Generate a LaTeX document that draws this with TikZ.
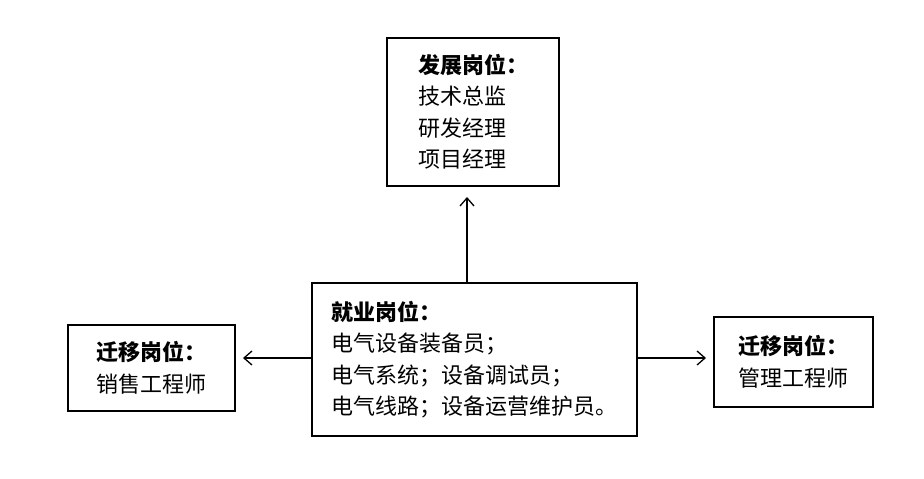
\documentclass[tikz,border=0pt]{standalone}
\usepackage{fontspec}
\setmainfont{Noto Sans CJK SC}
\usetikzlibrary{arrows.meta}
\tikzset{
  box/.style={draw, line width=1.5pt, align=left, inner sep=0pt, font=\fontsize{22}{31.5}\selectfont},
  arr/.style={-{Straight Barb[length=8pt,width=14pt]}, line width=1.3pt}
}
\begin{document}
\begin{tikzpicture}[x=1pt,y=-1pt]
\useasboundingbox[fill=white] (0,0) rectangle (924,479);
\node[box, minimum width=172pt, minimum height=148pt] (top) at (473,112) {\textbf{发展岗位：}\\技术总监\\研发经理\\项目经理};
\node[box, minimum width=325pt, minimum height=153pt] (mid) at (474.5,359.5) {\textbf{就业岗位：}\\电气设备装备员；\\电气系统；设备调试员；\\电气线路；设备运营维护员。};
\node[box, minimum width=167pt, minimum height=86pt] (left) at (151.5,368) {\textbf{迁移岗位：}\\销售工程师};
\node[box, minimum width=159pt, minimum height=90pt] (right) at (793.5,362) {\textbf{迁移岗位：}\\管理工程师};
\coordinate (ta) at (467,197);
\coordinate (la) at (243,358);
\coordinate (ra) at (706,358);
\draw[arr] (mid.north -| ta) -- (ta);
\draw[arr] (mid.west |- la) -- (la);
\draw[arr] (mid.east |- ra) -- (ra);
\end{tikzpicture}
\end{document}
